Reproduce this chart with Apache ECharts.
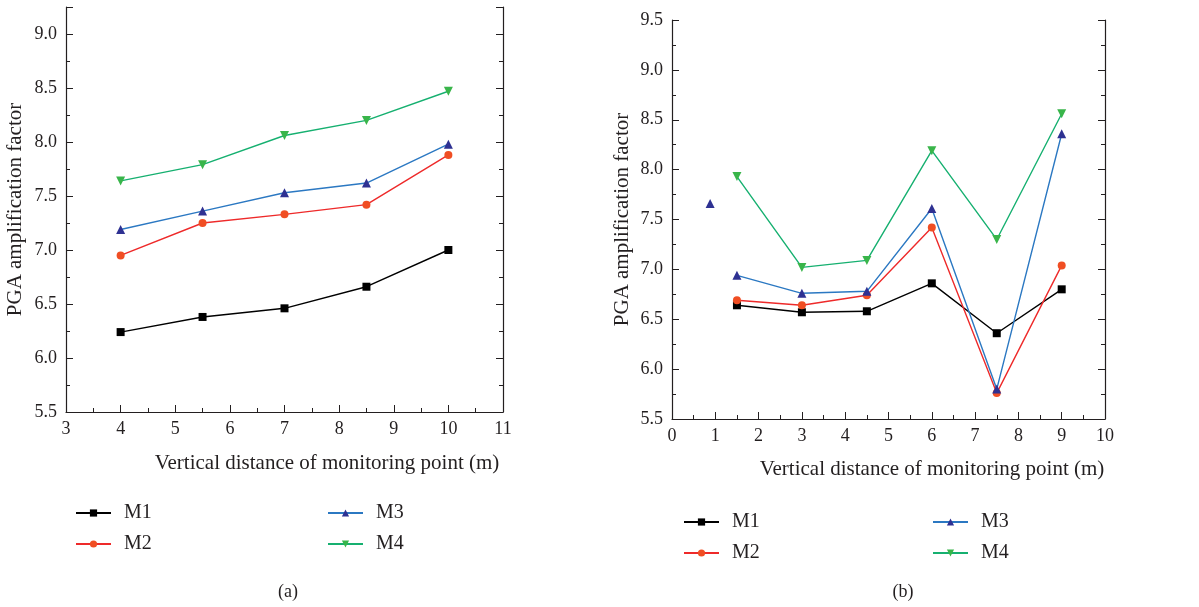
<!DOCTYPE html>
<html><head><meta charset="utf-8">
<script src="https://cdn.jsdelivr.net/npm/echarts@6/dist/echarts.min.js"></script>
<style>html,body{margin:0;padding:0;background:#fff}#c{width:1199px;height:607px}</style>
</head><body><div id="c"></div>
<script>
// ---- Data: chart (a) ----
var xA = [4, 5.5, 7, 8.5, 10];
var aM1 = [6.24, 6.38, 6.46, 6.66, 7.00];
var aM2 = [6.95, 7.25, 7.33, 7.42, 7.88];
var aM3 = [7.19, 7.36, 7.53, 7.62, 7.98];
var aM4 = [7.64, 7.79, 8.06, 8.20, 8.47];
// ---- Data: chart (b) ----
var xB = [1.5, 3, 4.5, 6, 7.5, 9];
var bM1 = [6.64, 6.57, 6.58, 6.86, 6.36, 6.80];
var bM2 = [6.69, 6.64, 6.74, 7.42, 5.76, 7.04];
var bM3 = [6.94, 6.76, 6.78, 7.61, 5.80, 8.36];
var bM4 = [7.93, 7.02, 7.09, 8.19, 7.30, 8.56];
var bM3Extra = [[0.88, 7.66]];
var seriesNames = ['M1', 'M2', 'M3', 'M4'];
var xTitle = 'Vertical distance of monitoring point (m)';
var yTitle = 'PGA amplification factor';
var captions = ['(a)', '(b)'];

var FONT = 'Liberation Serif';
var TXT = '#231f20';
var styles = {
  M1: {line: '#000000', mark: '#000000', symbol: 'rect', size: 8, rot: 0},
  M2: {line: '#ee2a2a', mark: '#f04e23', symbol: 'circle', size: 8, rot: 0},
  M3: {line: '#2b78c2', mark: '#2e3192', symbol: 'triangle', size: 9, rot: 0},
  M4: {line: '#16b070', mark: '#39b54a', symbol: 'triangle', size: 9, rot: 180}
};
function pairs(xs, ys) { return xs.map(function (x, i) { return [x, ys[i]]; }); }
function mkSeries(name, data, g) {
  var s = styles[name];
  return {
    type: 'line', name: name, data: data, xAxisIndex: g, yAxisIndex: g * 2,
    symbol: s.symbol, symbolSize: s.size, symbolRotate: s.rot,
    itemStyle: {color: s.mark, opacity: 1}, lineStyle: {color: s.line, width: 1.4},
    emphasis: {disabled: true}, animation: false, z: 3
  };
}
function xAx(g, min, max, gap, shift) {
  return {
    type: 'value', gridIndex: g, min: min, max: max, interval: 1,
    axisLine: {show: true, onZero: false, lineStyle: {color: '#231f20', width: 1.2}},
    axisTick: {show: true, inside: true, length: 7, lineStyle: {color: '#231f20'}},
    minorTick: {show: true, splitNumber: 2, length: 4, lineStyle: {color: '#231f20'}},
    splitLine: {show: false},
    axisLabel: {margin: 8, fontFamily: FONT, fontSize: 18, color: TXT},
    name: xTitle, nameLocation: 'middle', nameGap: gap,
    nameTextStyle: {fontFamily: FONT, fontSize: 21, color: TXT, padding: [0, 0, 0, shift]}
  };
}
function yAx(g, min, max, right, gap) {
  return {
    type: 'value', gridIndex: g, min: min, max: max, interval: 0.5,
    position: right ? 'right' : 'left',
    axisLine: {show: true, onZero: false, lineStyle: {color: '#231f20', width: 1.2}},
    axisTick: {show: true, inside: true, length: 7, lineStyle: {color: '#231f20'}},
    minorTick: {show: true, splitNumber: 2, length: 4, lineStyle: {color: '#231f20'}},
    splitLine: {show: false},
    axisLabel: {show: !right, margin: 9, fontFamily: FONT, fontSize: 18, color: TXT,
      formatter: function (v) { return Math.abs(v * 2 - Math.round(v * 2)) < 1e-6 ? v.toFixed(1) : ''; }},
    name: right ? '' : yTitle, nameLocation: 'middle', nameGap: gap,
    nameTextStyle: {fontFamily: FONT, fontSize: 21, color: TXT}
  };
}
function legend(names, left, top) {
  return {
    data: names, orient: 'vertical', left: left, top: top, itemWidth: 35, itemHeight: 9,
    itemGap: 11, selectedMode: false,
    textStyle: {fontFamily: FONT, fontSize: 20, color: TXT, padding: [0, 0, 0, 8]}
  };
}

var series = [
  mkSeries('M1', pairs(xA, aM1), 0),
  mkSeries('M2', pairs(xA, aM2), 0),
  mkSeries('M3', pairs(xA, aM3), 0),
  mkSeries('M4', pairs(xA, aM4), 0),
  mkSeries('M1', pairs(xB, bM1), 1),
  mkSeries('M2', pairs(xB, bM2), 1),
  mkSeries('M3', pairs(xB, bM3), 1),
  mkSeries('M4', pairs(xB, bM4), 1)
];
var extra = mkSeries('M3', bM3Extra, 1);
extra.type = 'scatter';
delete extra.lineStyle;
series.push(extra);

var chart = echarts.init(document.getElementById('c'), null, {renderer: 'canvas'});
chart.setOption({
  backgroundColor: '#ffffff',
  animation: false,
  grid: [
    {left: 66, top: 7, width: 437, height: 405},
    {left: 672, top: 20, width: 433, height: 399}
  ],
  xAxis: [xAx(0, 3, 11, 41, 85), xAx(1, 0, 10, 40, 87)],
  yAxis: [yAx(0, 5.5, 9.25, false, 40), yAx(0, 5.5, 9.25, true, 0), yAx(1, 5.5, 9.5, false, 39), yAx(1, 5.5, 9.5, true, 0)],
  legend: [
    legend(['M1', 'M2'], 70, 498),
    legend(['M3', 'M4'], 322, 498),
    legend(['M1', 'M2'], 678, 507),
    legend(['M3', 'M4'], 927, 507)
  ],
  title: [
    {text: captions[0], left: 283, top: 578, textAlign: 'center', textStyle: {fontFamily: FONT, fontSize: 18, fontWeight: 'normal', color: TXT}},
    {text: captions[1], left: 898, top: 578, textAlign: 'center', textStyle: {fontFamily: FONT, fontSize: 18, fontWeight: 'normal', color: TXT}}
  ],
  series: series
});
</script></body></html>
